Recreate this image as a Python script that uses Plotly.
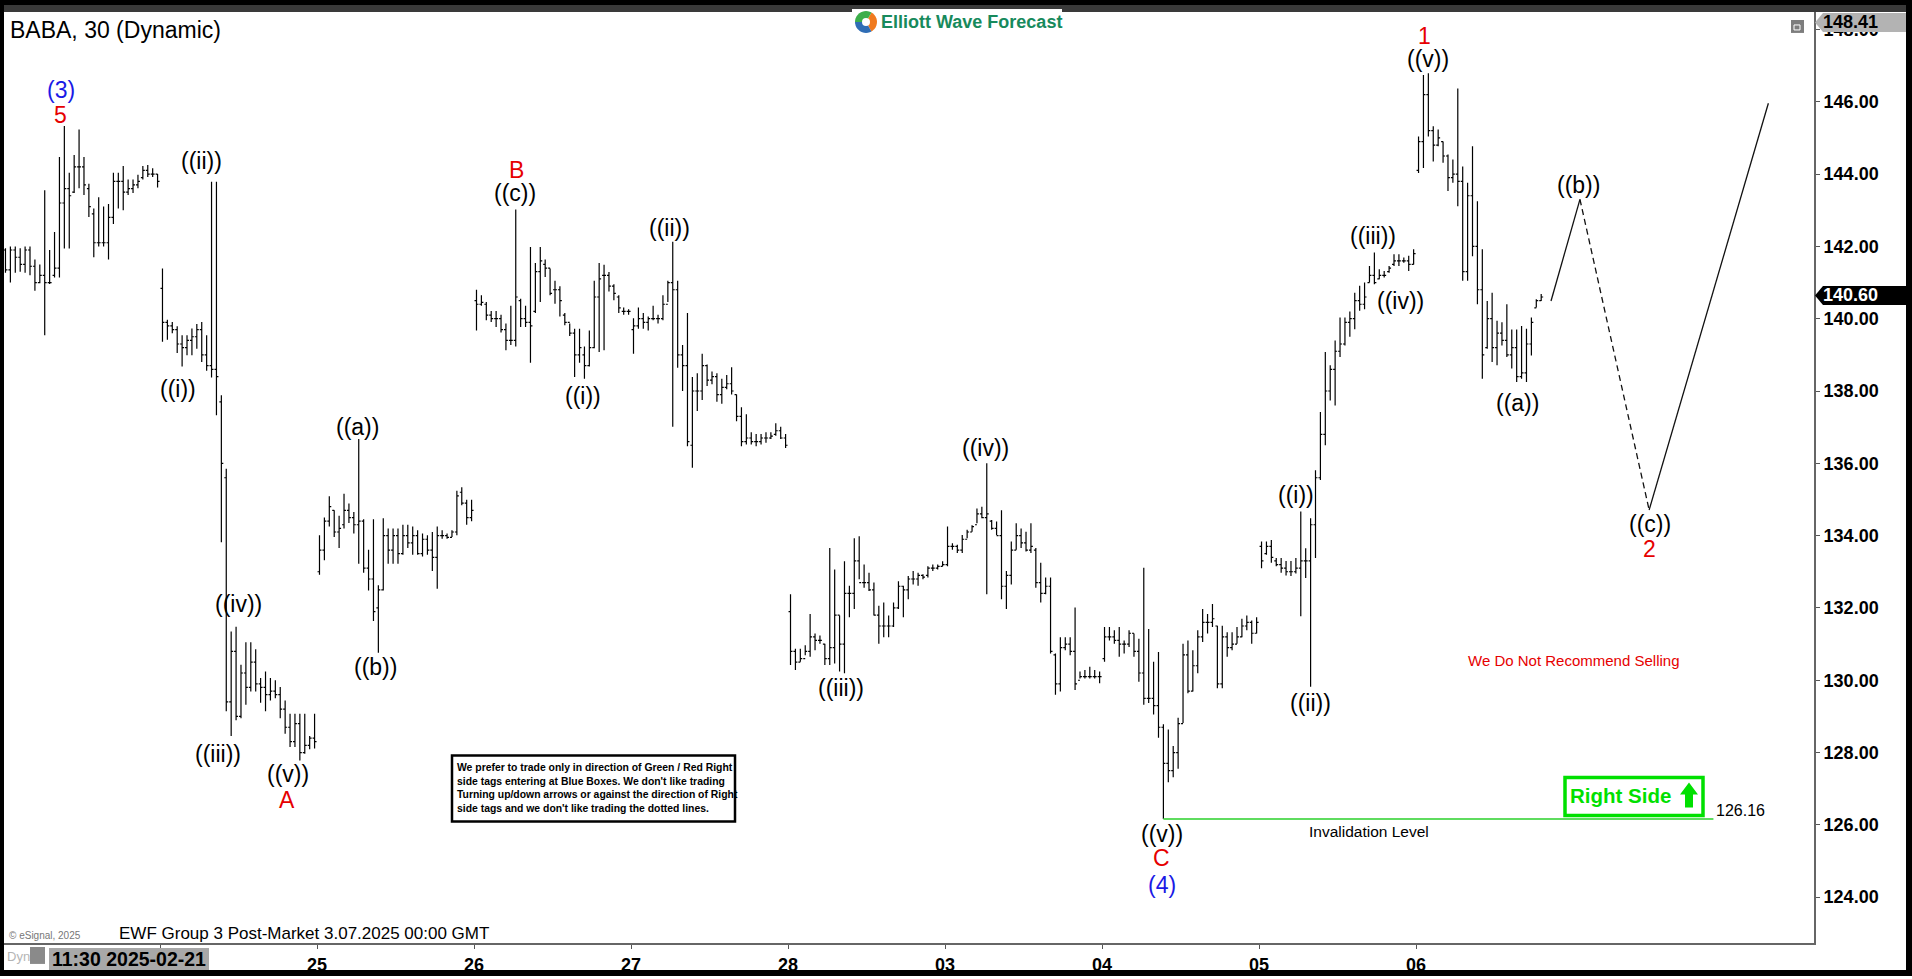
import math
import plotly.graph_objects as go

# ---------------- DATA (30-min bars: open, high, low, close) ----------------
bars_0221 = [
    (141.9, 141.95, 141.27, 141.35), (141.35, 142.0, 141.0, 141.9), (141.9, 142.0, 141.27, 141.7),
    (141.7, 141.95, 141.3, 141.5), (141.5, 142.0, 141.27, 141.9), (141.9, 142.0, 141.2, 141.45),
    (141.45, 141.64, 140.77, 141.0), (141.0, 141.5, 140.98, 141.2), (141.2, 143.55, 139.54, 141.0),
    (141.0, 141.9, 140.96, 141.0), (141.2, 142.4, 141.14, 141.4), (141.4, 144.47, 141.14, 143.2),
    (143.2, 145.33, 141.94, 143.6), (143.6, 144.04, 141.94, 143.4), (143.5, 144.53, 143.48, 144.2),
    (144.2, 145.23, 143.61, 144.2), (144.2, 144.47, 143.42, 143.7), (143.6, 143.73, 142.81, 143.1),
    (142.9, 143.05, 141.70, 142.1), (142.1, 143.36, 142.0, 142.1), (142.1, 143.1, 142.0, 142.1),
    (142.1, 143.17, 141.64, 142.8), (142.8, 144.04, 142.62, 143.8), (143.8, 144.04, 143.05, 143.8),
    (143.8, 144.22, 143.0, 143.5), (143.5, 143.85, 143.42, 143.6), (143.6, 143.85, 143.48, 143.7),
    (143.7, 143.98, 143.61, 143.8), (143.9, 144.22, 143.85, 144.1), (144.1, 144.25, 143.92, 144.0),
    (144.0, 144.16, 143.92, 144.0), (144.0, 144.0, 143.63, 143.8),
]
bars_0224 = [
    (140.84, 141.39, 139.36, 139.9), (139.9, 139.97, 139.42, 139.8), (139.8, 139.91, 139.6, 139.7),
    (139.7, 139.79, 139.05, 139.3), (139.3, 139.54, 138.68, 139.2), (139.2, 139.54, 138.99, 139.4),
    (139.4, 139.73, 138.99, 139.5), (139.5, 139.85, 139.17, 139.7), (139.7, 139.91, 138.8, 139.0),
    (139.0, 139.54, 138.56, 138.7), (138.7, 143.79, 138.37, 138.6), (138.6, 143.79, 137.33, 138.4),
    (137.7, 137.88, 133.82, 136.0), (135.6, 135.85, 129.14, 129.4), (129.4, 131.35, 128.46, 130.8),
    (130.8, 131.48, 128.89, 129.0), (129.0, 130.43, 128.95, 130.2), (130.2, 131.05, 129.32, 129.8),
    (129.8, 131.05, 129.69, 130.5), (130.5, 130.86, 129.69, 129.9), (129.9, 130.06, 129.38, 129.8),
    (129.8, 130.24, 129.14, 129.6), (129.6, 130.06, 129.44, 129.7), (129.7, 130.0, 129.5, 129.6),
    (129.6, 129.81, 128.95, 129.2), (129.2, 129.44, 128.52, 128.7), (128.7, 129.07, 128.15, 128.3),
    (128.3, 129.07, 128.15, 128.8), (128.8, 129.07, 127.78, 128.0), (128.0, 129.07, 127.97, 128.2),
    (128.2, 128.46, 128.09, 128.4), (128.4, 129.07, 128.11, 128.3),
]
bars_0225 = [
    (133.0, 134.01, 132.92, 133.6), (133.6, 134.5, 133.32, 134.4), (134.4, 135.09, 134.25, 134.8),
    (134.7, 134.70, 133.96, 134.1), (134.1, 134.55, 133.66, 134.2), (134.3, 135.16, 134.20, 134.7),
    (134.7, 134.89, 134.35, 134.5), (134.5, 134.65, 134.06, 134.3), (134.3, 136.67, 133.22, 134.4),
    (134.4, 134.45, 132.97, 133.1), (133.1, 133.61, 132.48, 132.8), (132.8, 134.45, 131.64, 131.9),
    (132.0, 132.63, 130.76, 132.5), (132.5, 134.48, 132.48, 134.0), (134.0, 134.2, 133.22, 133.6),
    (133.6, 134.2, 133.22, 134.0), (134.0, 134.2, 133.22, 133.5), (133.5, 134.3, 133.47, 134.0),
    (134.0, 134.3, 133.66, 133.8), (133.8, 134.25, 133.47, 134.0), (134.0, 134.15, 133.47, 133.5),
    (133.5, 134.06, 133.42, 133.9), (133.9, 134.01, 133.47, 133.6), (133.6, 134.1, 133.02, 133.4),
    (133.4, 134.25, 132.53, 134.0), (134.0, 134.15, 133.91, 134.0), (134.0, 134.06, 133.91, 133.95),
    (133.95, 134.15, 133.96, 134.1), (134.1, 135.24, 134.01, 135.1), (135.2, 135.34, 134.84, 134.9),
    (134.9, 134.99, 134.30, 134.5), (134.5, 134.99, 134.40, 134.7),
]
bars_0226 = [
    (140.5, 140.80, 139.67, 140.4), (140.4, 140.65, 140.36, 140.45), (140.4, 140.46, 139.96, 140.1),
    (140.1, 140.21, 139.91, 140.0), (140.0, 140.21, 139.77, 140.0), (140.0, 140.11, 139.62, 139.7),
    (139.7, 139.87, 139.13, 139.4), (139.4, 140.36, 139.27, 139.4), (139.4, 143.02, 139.23, 140.6),
    (140.5, 140.55, 139.77, 140.0), (140.0, 140.36, 139.77, 139.9), (139.9, 141.98, 138.78, 139.8),
    (140.2, 141.54, 140.16, 141.3), (141.3, 141.98, 140.46, 141.6), (141.5, 141.64, 141.15, 141.4),
    (141.4, 141.39, 140.65, 140.7), (140.8, 141.05, 140.41, 140.8), (140.8, 140.90, 140.06, 140.5),
    (140.1, 140.16, 139.82, 139.9), (139.9, 139.87, 139.52, 139.6), (139.6, 139.72, 138.39, 139.0),
    (139.0, 139.72, 138.78, 139.2), (139.0, 139.23, 138.34, 138.7), (138.7, 139.67, 138.68, 139.2),
    (139.2, 141.05, 139.18, 140.6), (140.6, 141.54, 139.08, 141.1), (141.2, 141.49, 139.13, 141.2),
    (141.2, 141.29, 140.75, 140.9), (140.9, 140.95, 140.51, 140.7), (140.6, 140.65, 140.16, 140.3),
    (140.2, 140.31, 140.11, 140.2), (140.2, 140.26, 140.11, 140.2),
]
bars_0227 = [
    (139.7, 140.01, 139.03, 139.8), (139.8, 140.31, 139.72, 140.0), (140.0, 140.16, 139.72, 139.9),
    (139.9, 140.06, 139.67, 140.0), (140.0, 140.36, 139.96, 140.0), (140.0, 140.11, 139.87, 140.0),
    (140.0, 140.65, 139.96, 140.4), (140.4, 141.05, 140.46, 141.0), (141.0, 142.13, 137.01, 140.8),
    (140.8, 141.05, 138.64, 139.0), (139.0, 139.27, 138.0, 138.7), (138.7, 140.16, 136.47, 136.6),
    (136.5, 138.39, 135.88, 138.0), (138.0, 138.49, 137.45, 138.0), (138.0, 139.03, 137.75, 138.7),
    (138.7, 138.73, 138.14, 138.3), (138.3, 138.54, 138.19, 138.4), (138.4, 138.49, 137.70, 137.9),
    (137.9, 138.34, 137.65, 138.1), (138.1, 138.44, 138.05, 138.2), (138.2, 138.66, 137.90, 138.0),
    (137.9, 137.90, 137.16, 137.3), (137.3, 137.55, 136.47, 136.6), (136.6, 137.36, 136.52, 136.7),
    (136.7, 136.86, 136.52, 136.6), (136.6, 136.81, 136.47, 136.6), (136.6, 136.81, 136.52, 136.7),
    (136.7, 136.86, 136.57, 136.7), (136.7, 136.86, 136.67, 136.75), (136.8, 137.11, 136.76, 136.9),
    (136.9, 137.01, 136.67, 136.7), (136.7, 136.81, 136.42, 136.5),
]
bars_0228 = [
    (131.9, 132.38, 130.42, 130.8), (130.8, 130.87, 130.28, 130.5), (130.5, 130.87, 130.51, 130.6),
    (130.6, 130.97, 130.69, 130.8), (130.8, 131.83, 130.65, 131.2), (131.2, 131.29, 130.83, 131.1),
    (131.1, 131.24, 131.01, 131.1), (131.0, 131.01, 130.42, 130.6), (130.6, 133.66, 130.42, 130.9),
    (130.9, 133.06, 130.46, 131.8), (131.8, 131.79, 130.24, 131.0), (131.0, 133.29, 130.19, 132.4),
    (132.4, 132.61, 131.74, 132.4), (132.4, 133.93, 131.97, 133.3), (133.3, 133.98, 132.79, 132.7),
    (132.7, 133.2, 132.56, 132.7), (132.7, 132.97, 132.47, 132.5), (132.5, 132.70, 131.79, 131.8),
    (131.8, 132.06, 131.01, 131.5), (131.5, 132.15, 131.19, 131.5), (131.5, 131.79, 131.19, 131.5),
    (131.5, 132.15, 131.47, 132.0), (132.0, 132.74, 131.97, 132.6), (132.6, 132.61, 131.74, 132.5),
    (132.5, 132.88, 132.24, 132.8), (132.8, 133.02, 132.65, 132.8), (132.8, 132.97, 132.61, 132.9),
    (132.9, 132.93, 132.79, 132.85), (132.9, 133.15, 132.84, 133.1), (133.1, 133.2, 133.02, 133.1),
    (133.1, 133.2, 133.06, 133.15), (133.15, 133.29, 133.15, 133.2),
]
bars_0303 = [
    (133.2, 134.25, 133.15, 133.7), (133.7, 133.79, 133.61, 133.7), (133.7, 133.75, 133.52, 133.6),
    (133.6, 134.02, 133.52, 133.9), (133.9, 134.16, 133.93, 134.1), (134.1, 134.29, 134.11, 134.25),
    (134.3, 134.75, 134.34, 134.6), (134.6, 134.80, 134.48, 134.5), (134.5, 136.0, 132.38, 134.6),
    (134.4, 134.43, 134.16, 134.2), (134.2, 134.39, 134.02, 134.0), (134.0, 134.70, 132.24, 132.6),
    (132.6, 133.02, 131.97, 132.9), (132.9, 133.84, 132.65, 133.6), (133.6, 134.34, 133.61, 134.0),
    (134.0, 134.20, 133.66, 133.8), (133.8, 134.11, 133.56, 133.6), (133.6, 134.34, 133.52, 133.7),
    (133.6, 133.66, 132.56, 132.7), (132.7, 133.25, 132.15, 132.4), (132.4, 132.84, 132.38, 132.6),
    (132.6, 132.84, 130.74, 130.8), (130.7, 130.74, 129.60, 129.9), (129.9, 131.19, 129.69, 130.9),
    (130.9, 131.19, 130.83, 131.0), (131.0, 131.19, 130.69, 130.8), (130.8, 132.01, 129.73, 129.9),
    (130.0, 130.24, 130.05, 130.1), (130.1, 130.28, 130.05, 130.1), (130.1, 130.37, 130.05, 130.1),
    (130.1, 130.28, 130.05, 130.1), (130.1, 130.24, 129.92, 130.1),
]
bars_0304 = [
    (130.6, 131.47, 130.51, 131.2), (131.2, 131.47, 131.1, 131.2), (131.2, 131.38, 131.01, 131.1),
    (131.1, 131.47, 130.65, 131.0), (131.0, 131.1, 130.74, 131.0), (131.0, 131.38, 130.92, 131.3),
    (131.3, 131.29, 130.65, 130.8), (130.8, 131.15, 129.96, 130.2), (130.2, 133.11, 129.32, 129.5),
    (129.5, 131.42, 129.37, 129.5), (129.5, 130.51, 129.05, 129.3), (129.3, 130.78, 128.41, 128.7),
    (128.7, 128.78, 126.16, 127.7), (127.7, 128.64, 127.18, 127.5), (127.5, 128.18, 127.32, 128.0),
    (128.0, 128.96, 127.55, 128.8), (128.8, 131.01, 128.82, 130.7), (130.7, 131.10, 129.64, 129.7),
    (129.7, 130.83, 129.69, 130.4), (130.4, 131.38, 130.19, 131.2), (131.2, 131.97, 131.06, 131.6),
    (131.6, 131.83, 131.29, 131.6), (131.6, 132.11, 131.47, 131.7), (131.5, 131.51, 129.78, 129.9),
    (129.9, 131.51, 129.78, 131.2), (131.2, 131.33, 130.65, 130.9), (130.9, 131.33, 130.83, 131.0),
    (131.0, 131.47, 131.01, 131.2), (131.2, 131.70, 131.19, 131.5), (131.5, 131.79, 131.38, 131.6),
    (131.6, 131.65, 131.01, 131.3), (131.3, 131.74, 131.29, 131.6),
]
bars_0305 = [
    (133.7, 133.84, 133.1, 133.3), (133.5, 133.84, 133.47, 133.7), (133.7, 133.88, 133.25, 133.4),
    (133.3, 133.38, 133.15, 133.2), (133.2, 133.38, 132.97, 133.1), (133.1, 133.3, 132.9, 133.0),
    (133.0, 133.3, 132.88, 133.0), (133.0, 133.38, 132.95, 133.1), (133.1, 134.67, 131.77, 133.3),
    (133.3, 133.65, 132.83, 133.3), (133.3, 134.48, 129.82, 134.3), (134.3, 135.81, 133.38, 135.6),
    (135.6, 137.42, 135.54, 136.8), (136.8, 139.08, 136.5, 138.0), (138.0, 138.71, 137.74, 138.6),
    (138.6, 139.4, 137.6, 139.1), (139.1, 140.03, 138.94, 139.3), (139.3, 140.03, 139.26, 139.9),
    (139.9, 140.2, 139.5, 140.0), (140.0, 140.72, 139.71, 140.5), (140.5, 140.91, 140.22, 140.4),
    (140.4, 141.0, 140.26, 140.6), (141.0, 141.46, 141.0, 141.2), (141.2, 141.83, 140.95, 141.0),
    (141.1, 141.37, 141.09, 141.2), (141.2, 141.32, 141.14, 141.2), (141.3, 141.46, 141.27, 141.4),
    (141.5, 141.78, 141.46, 141.6), (141.6, 141.78, 141.46, 141.6), (141.6, 141.69, 141.55, 141.6),
    (141.6, 141.74, 141.32, 141.5), (141.5, 141.92, 141.50, 141.8),
]
bars_0306 = [
    (144.1, 145.04, 144.03, 144.9), (144.9, 146.74, 144.17, 146.2), (146.2, 146.79, 145.04, 145.2),
    (145.2, 145.32, 144.35, 144.8), (144.8, 145.23, 144.77, 145.0), (144.9, 144.90, 144.31, 144.5),
    (144.5, 144.54, 143.53, 143.9), (143.9, 144.40, 143.76, 144.0), (144.0, 146.37, 143.11, 143.8),
    (143.8, 144.21, 141.05, 141.3), (141.3, 143.76, 141.05, 143.4), (143.4, 144.77, 141.73, 142.0),
    (142.0, 143.25, 140.40, 140.8), (140.8, 141.92, 138.34, 139.0), (139.2, 140.49, 139.17, 140.0),
    (140.0, 140.72, 138.80, 139.2), (139.2, 139.94, 138.71, 139.6), (139.6, 139.9, 139.26, 139.4),
    (139.4, 140.4, 138.94, 139.0), (139.0, 139.7, 138.62, 139.2), (139.2, 139.7, 138.25, 138.4),
    (138.4, 139.8, 138.34, 138.5), (138.5, 139.72, 138.25, 139.3), (139.3, 140.03, 138.98, 139.9),
    (140.3, 140.54, 140.31, 140.5), (140.5, 140.68, 140.49, 140.6),
]
sessions = [bars_0221, bars_0224, bars_0225, bars_0226, bars_0227, bars_0228,
            bars_0303, bars_0304, bars_0305, bars_0306]
session_labels = ["21", "", "25", "26", "27", "28", "03", "04", "05", "06"]
BARS_PER_SESSION = 32

# projected path (bar index, price): last bar -> ((b)) -> ((c)) -> target
proj_x = [315.0, 320.9, 335.0, 359.3]
proj_y = [140.49, 143.30, 134.71, 145.96]

invalidation_level = 126.16
invalidation_x = [236.0, 348.1]
last_price = 140.60
top_price = 148.41

y_ticks = [124, 126, 128, 130, 132, 134, 136, 138, 140, 142, 144, 146, 148]

# ---------------- LAYOUT HELPERS ----------------
W, H = 1912, 979
ML, MR, MT, MB = 4, 98, 12, 33
PW, PH = W - ML - MR, H - MT - MB
X_RANGE = [-0.3, 368.6]
Y_RANGE = [122.732, 148.483]


def px_x(x):
    return (x - ML) / PW


def px_y(y):
    return 1 - (y - MT) / PH


FONT = "Liberation Sans, Arial, sans-serif"
RED, BLUE, BLACK = "#e60000", "#1a1ae6", "#000000"
GREEN = "#00e000"

# ---------------- BUILD ----------------
xs, o, h, l, c = [], [], [], [], []
idx = 0
for s in sessions:
    for (bo, bh, bl, bc) in s:
        xs.append(idx)
        o.append(bo)
        h.append(bh)
        l.append(bl)
        c.append(bc)
        idx += 1
    idx = ((idx + BARS_PER_SESSION - 1) // BARS_PER_SESSION) * BARS_PER_SESSION

fig = go.Figure()
fig.add_trace(go.Ohlc(
    x=xs, open=o, high=h, low=l, close=c,
    increasing=dict(line=dict(color=BLACK, width=1.2)),
    decreasing=dict(line=dict(color=BLACK, width=1.2)),
    tickwidth=0.4, hoverinfo="skip", showlegend=False,
))

fig.add_trace(go.Scatter(x=invalidation_x, y=[invalidation_level] * 2, mode="lines",
                         line=dict(color="#5fdc5f", width=2), hoverinfo="skip", showlegend=False))
fig.add_trace(go.Scatter(x=proj_x[:2], y=proj_y[:2], mode="lines",
                         line=dict(color="#111111", width=1.3), hoverinfo="skip", showlegend=False))
fig.add_trace(go.Scatter(x=proj_x[1:3], y=proj_y[1:3], mode="lines",
                         line=dict(color="#111111", width=1.3, dash="6px,4px"), hoverinfo="skip",
                         showlegend=False))
fig.add_trace(go.Scatter(x=proj_x[2:], y=proj_y[2:], mode="lines",
                         line=dict(color="#111111", width=1.3), hoverinfo="skip", showlegend=False))

tick_vals = [BARS_PER_SESSION * d - 0.5 for d in range(1, len(sessions))]
tick_text = session_labels[1:]

annotations = []
wave_labels = [
    ("(3)", 11.3, 146.33, BLUE), ("5", 11.3, 145.64, RED),
    ("((ii))", 39.9, 144.35, BLACK), ("((i))", 35.2, 138.06, BLACK),
    ("((iv))", 47.4, 132.11, BLACK), ("((iii))", 43.3, 127.97, BLACK),
    ("((v))", 57.6, 127.42, BLACK), ("A", 57.4, 126.70, RED),
    ("((a))", 71.7, 137.01, BLACK), ("((b))", 75.5, 130.37, BLACK),
    ("B", 104.1, 144.10, RED), ("((c))", 103.9, 143.49, BLACK),
    ("((i))", 117.7, 137.87, BLACK), ("((ii))", 135.3, 142.50, BLACK),
    ("((iii))", 170.3, 129.79, BLACK), ("((iv))", 199.7, 136.41, BLACK),
    ("((v))", 235.7, 125.76, BLACK), ("C", 235.7, 125.08, RED), ("(4)", 235.7, 124.33, BLUE),
    ("((i))", 263.1, 135.11, BLACK), ("((ii))", 265.9, 129.38, BLACK),
    ("((iii))", 278.8, 142.28, BLACK), ("((iv))", 284.3, 140.49, BLACK),
    ("1", 289.3, 147.82, RED), ("((v))", 290.0, 147.17, BLACK),
    ("((a))", 308.1, 137.68, BLACK), ("((b))", 320.7, 143.71, BLACK),
    ("((c))", 335.2, 134.31, BLACK), ("2", 335.0, 133.62, RED),
]
for t, x, y, col in wave_labels:
    annotations.append(dict(x=x, y=y, xref="x", yref="y", text=t, showarrow=False,
                            font=dict(family=FONT, size=23, color=col),
                            xanchor="center", yanchor="middle", borderpad=0))


def ptext(text, x, y, size, color="#000", weight="normal", xanchor="left", **kw):
    d = dict(x=px_x(x), y=px_y(y), xref="paper", yref="paper", text=text, showarrow=False,
             font=dict(family=FONT, size=size, color=color, weight=weight),
             xanchor=xanchor, yanchor="middle", borderpad=0)
    d.update(kw)
    annotations.append(d)


ptext("BABA, 30 (Dynamic)", 9, 30, 23)
ptext("Elliott Wave Forecast", 880, 22, 18, color="#178a5c", weight="bold")
ptext("We Do Not Recommend Selling", 1573, 663, 15, color=RED, xanchor="center")
ptext("Invalidation Level", 1369, 834, 15.5, xanchor="center")
ptext(f"{invalidation_level:.2f}", 1715, 813, 16)
ptext("Right Side", 1569, 798, 20.5, color=GREEN, weight="bold")
disclaimer = ("We prefer to trade only in direction of Green / Red Right<br>"
              "side tags entering at Blue Boxes. We don't like trading<br>"
              "Turning up/down arrows or against the direction of Right<br>"
              "side tags and we don't like trading the dotted lines.")
ptext(disclaimer, 456, 790, 10.4, weight="bold", align="left")
ptext("EWF Group 3 Post-Market 3.07.2025 00:00 GMT", 118, 936, 17)
ptext("\u00a9 eSignal, 2025", 8, 938, 10, color="#777777")
ptext("11:30 2025-02-21", 129, 962, 19.5, weight="bold", xanchor="center")
ptext("Dyn", 6, 960, 13, color="#b5b5b5")
ptext(f"{top_price:.2f}", 1822, 22, 18, weight="bold")
ptext(f"{last_price:.2f}", 1822, 296, 18, color="#ffffff", weight="bold")

shapes = []


def prect(x0, y0, x1, y1, fill=None, line_color=None, line_width=0, layer="above"):
    shapes.append(dict(type="rect", xref="paper", yref="paper",
                       x0=px_x(x0), x1=px_x(x1), y0=px_y(y1), y1=px_y(y0),
                       fillcolor=fill or "rgba(0,0,0,0)",
                       line=dict(color=line_color or "rgba(0,0,0,0)", width=line_width),
                       layer=layer))


def ppath(points, fill, layer="above"):
    p = "M " + " L ".join(f"{px_x(a):.5f},{px_y(b):.5f}" for a, b in points) + " Z"
    shapes.append(dict(type="path", xref="paper", yref="paper", path=p, fillcolor=fill,
                       line=dict(width=0), layer=layer))


# frame
prect(0, 0, W, 5, fill="#000000")
prect(0, 5, W, 12, fill="#3a3a3a")
prect(0, 0, 4, H, fill="#000000")
prect(1906, 0, W, H, fill="#000000")
prect(0, 973, W, H, fill="#000000")
# logo
prect(852, 9, 1062, 35, fill="#ffffff")
cx, cy, r = 866, 22, 11
for a0, a1, col in [(-60, 60, "#f07a1e"), (60, 180, "#2f6db5"), (180, 300, "#3cae4a")]:
    pts = [(cx, cy)]
    for k in range(13):
        a = math.radians(a0 + (a1 - a0) * k / 12)
        pts.append((cx + r * math.cos(a), cy + r * math.sin(a)))
    ppath(pts, col)
shapes.append(dict(type="circle", xref="paper", yref="paper", x0=px_x(cx - 4), x1=px_x(cx + 4),
                   y0=px_y(cy + 4), y1=px_y(cy - 4), fillcolor="#ffffff", line=dict(width=0)))
# window icon
prect(1791, 20, 1804, 33, fill="#7d7d7d")
prect(1794, 25, 1800, 30, line_color="#ffffff", line_width=1)
# price tags
ppath([(1815, 22.5), (1823, 13), (1906, 13), (1906, 32), (1823, 32)], "#b3b3b3")
ppath([(1815, 296.5), (1823, 287), (1906, 287), (1906, 306), (1823, 306)], "#000000")
# date box & lock
prect(49, 951, 209, 973, fill="#a8a8a8")
prect(30, 950, 45, 967, fill="#8a8a8a")
# disclaimer box
prect(452, 758, 735, 824, line_color="#000000", line_width=2.5)
# Right Side box with arrow
prect(1565, 780, 1703, 818, line_color=GREEN, line_width=3.5)
ppath([(1689, 785), (1698, 797), (1693, 797), (1693, 810), (1685, 810), (1685, 797), (1680, 797)],
      GREEN)

fig.update_layout(
    width=W, height=H, autosize=False,
    margin=dict(l=ML, r=MR, t=MT, b=MB, pad=0),
    paper_bgcolor="#ffffff", plot_bgcolor="#ffffff",
    showlegend=False,
    annotations=annotations, shapes=shapes,
    xaxis=dict(range=X_RANGE, tickvals=tick_vals, ticktext=tick_text,
               ticks="outside", ticklen=4, tickcolor="#555555",
               showline=True, linecolor="#666666", linewidth=2,
               showgrid=False, zeroline=False, rangeslider=dict(visible=False),
               tickfont=dict(family=FONT, size=18, color="#000", weight="bold")),
    yaxis=dict(range=Y_RANGE, side="right", tickvals=y_ticks,
               ticktext=[f"{v:.2f}" for v in y_ticks],
               ticks="outside", ticklen=4, tickcolor="#555555",
               showline=True, linecolor="#666666", linewidth=2,
               showgrid=False, zeroline=False,
               tickfont=dict(family=FONT, size=18, color="#000", weight="bold")),
)

fig.write_html("out.html", config={"displayModeBar": False},
               post_script="document.body.style.margin='0';document.body.style.overflow='hidden';")
